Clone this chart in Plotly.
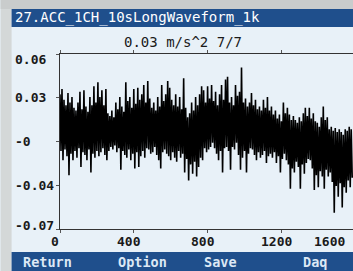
import plotly.graph_objects as go

# ---- data ----
title_text = "27.ACC_1CH_10sLongWaveform_1k"
subtitle_text = "0.03 m/s^2 7/7"
menu_labels = ["Return", "Option", "Save", "Daq"]

y_tick_vals = [0.06, 0.0275, -0.005, -0.0375, -0.07]
y_tick_text = ["0.06", "0.03", "-0", "-0.04", "-0.07"]
x_tick_vals = [0, 400, 800, 1200]
x_tick_text = ["0", "400", "800", "1200"]
x_last_label = "1600"

sample_step = 5.4  # x units per drawn sample

# local maxima / minima of the waveform, read column by column
wave_hi = [0.030, 0.034, 0.026, 0.022, 0.031, 0.024, 0.028, 0.020, 0.018, 0.024,
           0.032, 0.019, 0.033, 0.021, 0.017, 0.028, 0.022, 0.036, 0.024, 0.039,
           0.028, 0.033, 0.022, 0.034, 0.016, 0.014, 0.018, 0.013, 0.024, 0.019,
           0.028, 0.021, 0.017, 0.039, 0.025, 0.028, 0.020, 0.034, 0.023, 0.035,
           0.026, 0.030, 0.037, 0.024, 0.040, 0.027, 0.020, 0.024, 0.018, 0.028,
           0.021, 0.037, 0.025, 0.030, 0.040, 0.035, 0.026, 0.022, 0.030, 0.021,
           0.028, 0.019, 0.042, 0.020, 0.013, 0.016, 0.024, 0.018, 0.028, 0.022,
           0.030, 0.036, 0.033, 0.024, 0.036, 0.027, 0.037, 0.025, 0.032, 0.022,
           0.030, 0.037, 0.026, 0.041, 0.043, 0.024, 0.028, 0.022, 0.037, 0.029,
           0.032, 0.050, 0.024, 0.027, 0.021, 0.024, 0.031, 0.022, 0.026, 0.019,
           0.021, 0.018, 0.026, 0.020, 0.028, 0.018, 0.021, 0.015, 0.018, 0.012,
           0.015, 0.010, 0.024, 0.016, 0.020, 0.015, 0.011, 0.014, 0.011, 0.009,
           0.013, 0.010, 0.016, 0.020, 0.014, 0.020, 0.012, 0.016, 0.010, 0.009,
           0.006, 0.013, 0.021, 0.011, 0.013, 0.004, 0.006, 0.003, 0.005, 0.002,
           0.004, 0.002, 0.000, 0.004, 0.003, 0.006, 0.004]
wave_lo = [-0.012, -0.019, -0.011, -0.016, -0.030, -0.014, -0.019, -0.012, -0.017, -0.010,
           -0.024, -0.013, -0.015, -0.019, -0.011, -0.028, -0.014, -0.017, -0.012, -0.016,
           -0.013, -0.010, -0.015, -0.019, -0.012, -0.009, -0.011, -0.008, -0.013, -0.010,
           -0.026, -0.012, -0.015, -0.017, -0.011, -0.019, -0.014, -0.025, -0.013, -0.024,
           -0.016, -0.012, -0.017, -0.010, -0.011, -0.014, -0.013, -0.009, -0.015, -0.019,
           -0.025, -0.013, -0.011, -0.014, -0.016, -0.019, -0.013, -0.017, -0.020, -0.012,
           -0.017, -0.014, -0.028, -0.018, -0.034, -0.022, -0.029, -0.020, -0.031, -0.024,
           -0.017, -0.019, -0.010, -0.013, -0.011, -0.009, -0.006, -0.010, -0.014, -0.019,
           -0.012, -0.028, -0.010, -0.009, -0.012, -0.026, -0.009, -0.011, -0.006, -0.015,
           -0.026, -0.017, -0.012, -0.028, -0.014, -0.010, -0.011, -0.015, -0.019, -0.013,
           -0.017, -0.015, -0.012, -0.021, -0.016, -0.014, -0.017, -0.013, -0.021, -0.016,
           -0.028, -0.018, -0.014, -0.019, -0.022, -0.040, -0.025, -0.028, -0.020, -0.024,
           -0.040, -0.022, -0.029, -0.021, -0.018, -0.019, -0.025, -0.041, -0.030, -0.039,
           -0.027, -0.031, -0.040, -0.026, -0.031, -0.028, -0.035, -0.058, -0.038, -0.046,
           -0.036, -0.054, -0.039, -0.043, -0.034, -0.039, -0.032]

# ---- build trace ----
wave = [v for pair in zip(wave_hi, wave_lo) for v in pair]
xs = [i * sample_step for i in range(len(wave))]

W, H = 353, 271
L, R, T, B = 59.5, 353, 54, 229  # plot area in pixels


def px(x):
    return (x - L) / (R - L)


def py(y):
    return (B - y) / (B - T)


BG = "#e8f1f8"
BAR = "#1f4f8c"
MONO = "DejaVu Sans Mono"
TXT = "#1a1a1a"
FS = 13

fig = go.Figure()
fig.add_trace(go.Scatter(x=xs, y=wave, mode="lines",
                         line=dict(color="#000000", width=1.6, simplify=False),
                         hoverinfo="skip", showlegend=False))

shapes = [
    dict(type="rect", xref="paper", yref="paper", x0=px(0), x1=px(11), y0=py(271), y1=py(0),
         fillcolor="#d4d8d8", line_width=0, layer="below"),
    dict(type="rect", xref="paper", yref="paper", x0=px(0), x1=px(353), y0=py(9), y1=py(0),
         fillcolor="#c9cccc", line_width=0, layer="below"),
    dict(type="rect", xref="paper", yref="paper", x0=px(11), x1=px(353), y0=py(27), y1=py(9),
         fillcolor=BAR, line_width=0, layer="below"),
    dict(type="rect", xref="paper", yref="paper", x0=px(11), x1=px(353), y0=py(271), y1=py(252),
         fillcolor=BAR, line_width=0, layer="below"),
]

annotations = [
    dict(text=title_text, xref="paper", yref="paper", x=px(12), y=py(18),
         xanchor="left", yanchor="middle", showarrow=False,
         font=dict(family=MONO, size=14, color="#ffffff")),
    dict(text=subtitle_text, xref="paper", yref="paper", x=px(183), y=py(42),
         xanchor="center", yanchor="middle", showarrow=False,
         font=dict(family=MONO, size=14, color=TXT)),
    dict(text="<b>%s</b>" % x_last_label, xref="x", yref="paper", x=1457, y=py(241),
         xanchor="center", yanchor="middle", showarrow=False,
         font=dict(family=MONO, size=FS, color=TXT)),
]
# y tick labels: left-aligned at the screen edge, like the device draws them
y_shift = [-5, 0, 0, 0, 4]
for v, t, s in zip(y_tick_vals, y_tick_text, y_shift):
    annotations.append(dict(text="<b>%s</b>" % t, xref="paper", yref="y",
                            x=px(12), y=v, yshift=s,
                            xanchor="left", yanchor="middle", showarrow=False,
                            font=dict(family=MONO, size=FS, color=TXT)))
# x tick labels
for v, t in zip(x_tick_vals, x_tick_text):
    annotations.append(dict(text="<b>%s</b>" % t, xref="x", yref="paper",
                            x=v, y=py(241), xshift=-5,
                            xanchor="center", yanchor="middle", showarrow=False,
                            font=dict(family=MONO, size=FS, color=TXT)))
for lab, cx in zip(menu_labels, [47, 142, 220, 315]):
    annotations.append(dict(text="<b>%s</b>" % lab, xref="paper", yref="paper",
                            x=px(cx), y=py(262), xanchor="center", yanchor="middle",
                            showarrow=False,
                            font=dict(family=MONO, size=13.5, color="#dce8f5")))

fig.update_layout(
    width=W, height=H,
    margin=dict(l=L, r=W - R, t=T, b=H - B, pad=0),
    paper_bgcolor=BG, plot_bgcolor=BG,
    shapes=shapes, annotations=annotations,
    xaxis=dict(range=[0, (R - L) / 74 * 400], tickvals=x_tick_vals, showticklabels=False,
               automargin=False,
               showgrid=False, zeroline=False, showline=True, linecolor="#333333",
               linewidth=1, mirror="ticks", ticks="outside", ticklen=3,
               tickcolor="#555555"),
    yaxis=dict(range=[-0.07, 0.06], tickvals=y_tick_vals, showticklabels=False,
               automargin=False,
               showgrid=False, zeroline=False, showline=True, linecolor="#333333",
               linewidth=1, ticks="outside", ticklen=3, tickcolor="#555555"),
)

fig.write_html("out.html", config={"displayModeBar": False},
               post_script="document.body.style.margin='0';document.body.style.overflow='hidden';")
